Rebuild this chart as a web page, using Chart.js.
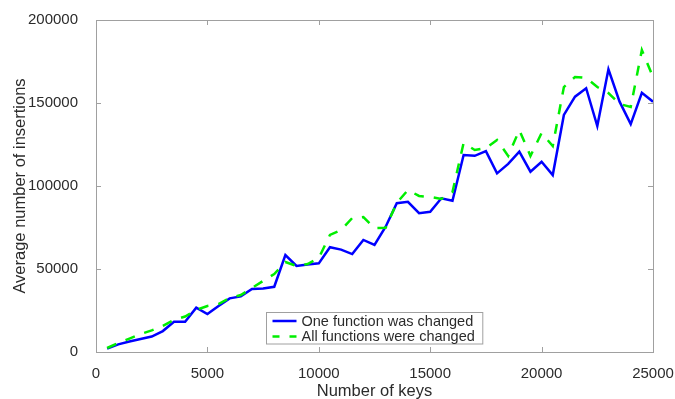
<!DOCTYPE html>
<html>
<head>
<meta charset="utf-8">
<script src="https://cdn.jsdelivr.net/npm/chart.js@4"></script>
<style>
  html, body { margin: 0; padding: 0; background: #fff; }
  canvas { display: block; }
</style>
</head>
<body>
<canvas id="insertChart" width="675" height="399"></canvas>
<script>
// number of keys (x)
const keys = [500, 1000, 1500, 2000, 2500, 3000, 3500, 4000, 4500, 5000,
    5500, 6000, 6500, 7000, 7500, 8000, 8500, 9000, 9500, 10000,
    10500, 11000, 11500, 12000, 12500, 13000, 13500, 14000, 14500, 15000,
    15500, 16000, 16500, 17000, 17500, 18000, 18500, 19000, 19500, 20000,
    20500, 21000, 21500, 22000, 22500, 23000, 23500, 24000, 24500, 25000];

// average number of insertions
const oneChanged = [2000, 4600, 6300, 7800, 9300, 12600, 18200, 18200, 26700, 22900,
    27700, 32300, 33500, 38000, 38300, 39300, 58400, 51800, 52700, 53400,
    63100, 61700, 59000, 67500, 64500, 75500, 89600, 90500, 83600, 84500,
    92600, 91100, 118700, 118200, 121000, 107600, 113300, 120700, 108600, 114600,
    106600, 142800, 153800, 158900, 136100, 170300, 150800, 137300, 156200, 150800];

const allChanged = [2400, 5400, 8100, 10800, 13000, 15700, 19300, 21400, 25300, 27700,
    28900, 32500, 34300, 38600, 42800, 47000, 54200, 51800, 53000, 56600,
    70500, 73500, 80700, 81300, 74700, 74800, 89800, 97600, 94000, 93400,
    92200, 96400, 125900, 121700, 122900, 127700, 118100, 133700, 118100, 131900,
    124100, 159600, 165700, 165100, 159600, 156000, 149400, 147600, 181900, 165700];

const seriesLabels = ["One function was changed", "All functions were changed"];
const xTicks = [0, 5000, 10000, 15000, 20000, 25000];
const yTicks = [0, 50000, 100000, 150000, 200000];

const FONT = "'Liberation Sans', Arial, sans-serif";
const AXIS_GREY = "#a0a0a0";
const TEXT = "#2b2b2b";

// matlab-like box with inward ticks + legend inside the plot
const boxPlugin = {
    id: "boxTicks",
    afterDatasetsDraw(chart) {
        const { ctx, chartArea: a, scales } = chart;
        const tl = 5;
        ctx.save();
        ctx.strokeStyle = AXIS_GREY;
        ctx.lineWidth = 1;
        ctx.beginPath();
        scales.x.ticks.forEach((t) => {
            const px = Math.round(scales.x.getPixelForValue(t.value)) + 0.5;
            ctx.moveTo(px, a.bottom); ctx.lineTo(px, a.bottom - tl);
            ctx.moveTo(px, a.top); ctx.lineTo(px, a.top + tl);
        });
        scales.y.ticks.forEach((t) => {
            const py = Math.round(scales.y.getPixelForValue(t.value)) + 0.5;
            ctx.moveTo(a.left, py); ctx.lineTo(a.left + tl, py);
            ctx.moveTo(a.right, py); ctx.lineTo(a.right - tl, py);
        });
        ctx.stroke();
        ctx.strokeRect(Math.round(a.left) + 0.5, Math.round(a.top) + 0.5,
            Math.round(a.right - a.left), Math.round(a.bottom - a.top));
        ctx.restore();
    },
    afterDraw(chart) {
        const { ctx, chartArea: a } = chart;
        const sets = chart.data.datasets;
        ctx.save();
        ctx.font = "14.5px " + FONT;
        const textW = Math.max(...sets.map((d) => ctx.measureText(d.label).width));
        const padL = 6, sample = 24, gap = 5, padR = 8;
        const w = padL + sample + gap + textW + padR;
        const h = 31.5;
        const x0 = Math.round((a.left + a.right) / 2 - w / 2) + 0.5;
        const y0 = Math.round(a.bottom - 8.5 - h) + 0.5;
        ctx.fillStyle = "#fff";
        ctx.fillRect(x0, y0, w, h);
        ctx.strokeStyle = AXIS_GREY;
        ctx.lineWidth = 1;
        ctx.strokeRect(x0, y0, w, h);
        // legend in the original order (blue first)
        const order = [...sets].sort((p, q) => p.legendIdx - q.legendIdx);
        order.forEach((d, i) => {
            const cy = y0 + 8.5 + i * 15.5;
            ctx.strokeStyle = d.borderColor;
            ctx.lineWidth = d.borderWidth;
            ctx.setLineDash(d.borderDash ? [7, 10] : []);
            ctx.beginPath();
            ctx.moveTo(x0 + padL, cy);
            ctx.lineTo(x0 + padL + sample, cy);
            ctx.stroke();
            ctx.setLineDash([]);
            ctx.fillStyle = TEXT;
            ctx.textBaseline = "middle";
            ctx.textAlign = "left";
            ctx.fillText(d.label, x0 + padL + sample + gap, cy + 0.5);
        });
        ctx.restore();
    },
};

function toPoints(ys) {
    return keys.map((k, i) => ({ x: k, y: ys[i] }));
}

document.addEventListener("DOMContentLoaded", () => {
    const el = document.getElementById("insertChart");
    new Chart(el.getContext("2d"), {
        type: "line",
        data: {
            datasets: [
                {
                    label: seriesLabels[0],
                    legendIdx: 0,
                    data: toPoints(oneChanged),
                    borderColor: "#0000ff",
                    borderWidth: 2.5,
                    pointRadius: 0,
                    tension: 0,
                    fill: false,
                    order: 1,
                },
                {
                    label: seriesLabels[1],
                    legendIdx: 1,
                    data: toPoints(allChanged),
                    borderColor: "#00ee00",
                    borderWidth: 2.5,
                    borderDash: [10, 10],
                    borderCapStyle: "butt",
                    pointRadius: 0,
                    tension: 0,
                    fill: false,
                    order: 0,
                },
            ],
        },
        options: {
            responsive: false,
            animation: false,
            layout: { padding: { left: 0, right: 22, top: 20, bottom: 0 } },
            plugins: {
                legend: { display: false },
                tooltip: { enabled: false },
            },
            scales: {
                x: {
                    type: "linear",
                    min: 0,
                    max: 25000,
                    afterBuildTicks: (s) => { s.ticks = xTicks.map((v) => ({ value: v })); },
                    afterFit: (s) => {
                        s.height = 47;
                        s.paddingLeft = 0;
                        s.paddingRight = 0;
                    },
                    grid: { display: false },
                    border: { display: false },
                    ticks: {
                        padding: 5,
                        maxRotation: 0,
                        color: TEXT,
                        font: { family: FONT, size: 15 },
                        callback: (v) => String(v),
                    },
                    title: {
                        display: true,
                        text: "Number of keys",
                        color: TEXT,
                        font: { family: FONT, size: 16.5, lineHeight: 1 },
                        padding: { top: 0, bottom: -1 },
                    },
                },
                y: {
                    min: 0,
                    max: 200000,
                    afterBuildTicks: (s) => { s.ticks = yTicks.map((v) => ({ value: v })); },
                    afterFit: (s) => {
                        s.width = 96;
                        s.paddingTop = 0;
                        s.paddingBottom = 0;
                    },
                    grid: { display: false },
                    border: { display: false },
                    ticks: {
                        padding: 10,
                        color: TEXT,
                        font: { family: FONT, size: 15 },
                        callback: (v) => String(v),
                    },
                    title: {
                        display: true,
                        text: "Average number of insertions",
                        color: TEXT,
                        font: { family: FONT, size: 16.5, lineHeight: 1 },
                        padding: { top: 12, bottom: 0 },
                    },
                },
            },
        },
        plugins: [boxPlugin],
    });
});
</script>
</body>
</html>
